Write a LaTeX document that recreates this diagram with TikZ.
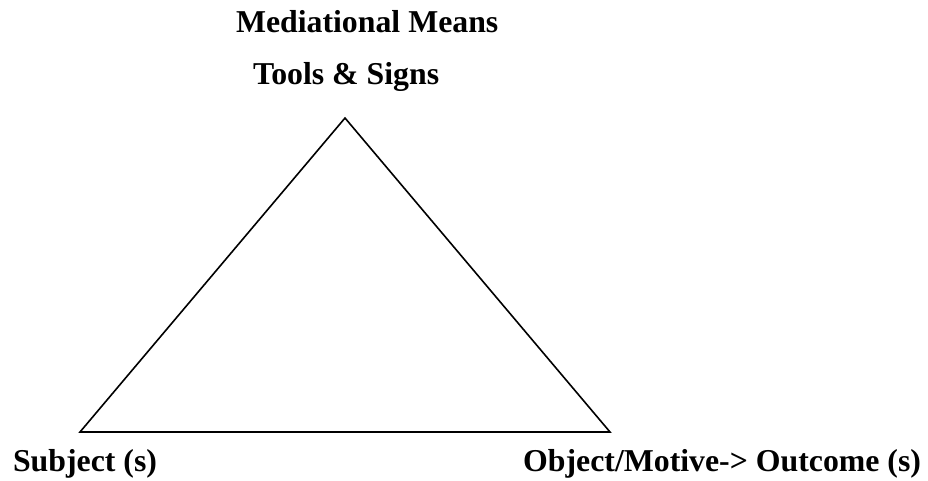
\documentclass[tikz,border=0pt]{standalone}
\usepackage{fontspec}
\setmainfont{Liberation Serif}
\begin{document}
\begin{tikzpicture}[x=1pt,y=-1pt,
  lbl/.style={inner sep=0pt,outer sep=0pt,font=\fontsize{31.8}{38}\selectfont\bfseries},
  edge/.style={line width=1.6pt,line join=miter}]
\useasboundingbox (0,0) rectangle (928,480);
\coordinate (apex) at (345,118);
\coordinate (left) at (80,432);
\coordinate (right) at (610,432);
\draw[edge] (apex) -- (left) -- (right) -- cycle;
\node[lbl,anchor=base west] (mm) at (236,32) {Mediational Means};
\node[lbl,anchor=base west] (ts) at (253,84) {Tools \& Signs};
\node[lbl,anchor=base west] (subj) at (13,471) {Subject (s)};
\node[lbl,anchor=base east] (obj) at (921,471) {Object/Motive-> Outcome (s)};
\end{tikzpicture}
\end{document}
